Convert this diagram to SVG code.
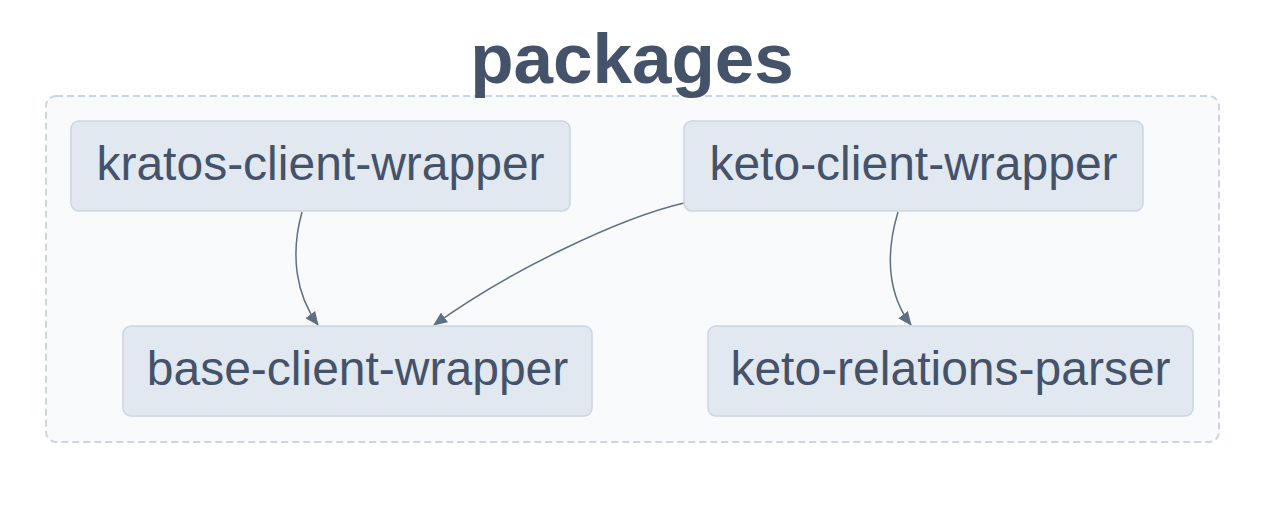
<svg xmlns="http://www.w3.org/2000/svg" width="1280" height="508" viewBox="0 0 1280 508">
<style>
.node rect{fill:#e2e8f0;stroke:#cbd5e1;stroke-width:1.5}
.node text{font-family:"Liberation Sans",Arial,sans-serif;font-size:48px;fill:#44526a;text-anchor:middle}
.edge{fill:none;stroke:#5f6f84;stroke-width:1.5;marker-end:url(#arr)}
</style>
<defs>
<marker id="arr" viewBox="0 0 14 12" refX="13" refY="6" markerWidth="14" markerHeight="12" markerUnits="userSpaceOnUse" orient="auto">
<path d="M0,0 L14,6 L0,12 z" fill="#5f6f84"/>
</marker>
</defs>
<rect width="1280" height="508" fill="#ffffff"/>
<g id="cluster-packages">
<rect x="46" y="96" width="1173" height="346" rx="10" fill="#f8fafc" stroke="#cbd5e1" stroke-width="2" stroke-dasharray="7,4"/>
<text x="632" y="83" font-family="Liberation Sans,Arial,sans-serif" font-weight="bold" font-size="71" fill="#44526a" text-anchor="middle">packages</text>
</g>
<g id="connectors">
<path class="edge" d="M302,212 C290,255 296,295 318,325"/>
<path class="edge" d="M684,203 C620,218 510,270 434,325"/>
<path class="edge" d="M898,212 C885,255 888,295 911,325"/>
</g>
<g id="kratos-client-wrapper" class="node">
<rect x="71" y="121" width="499" height="90" rx="8"/>
<text x="320.5" y="180">kratos-client-wrapper</text>
</g>
<g id="keto-client-wrapper" class="node">
<rect x="684" y="121" width="459" height="90" rx="8"/>
<text x="913.5" y="180">keto-client-wrapper</text>
</g>
<g id="base-client-wrapper" class="node">
<rect x="123" y="326" width="469" height="90" rx="8"/>
<text x="357.5" y="385">base-client-wrapper</text>
</g>
<g id="keto-relations-parser" class="node">
<rect x="708" y="326" width="485" height="90" rx="8"/>
<text x="950.5" y="385">keto-relations-parser</text>
</g>
</svg>
